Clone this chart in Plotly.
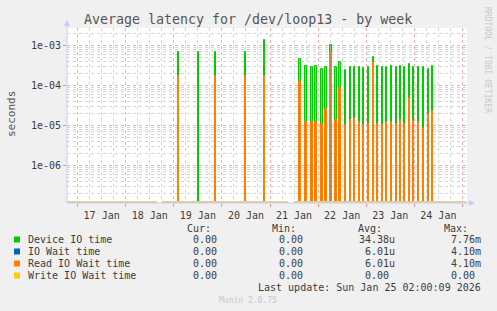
import plotly.graph_objects as go

# ---------------- data ----------------
times = [
    "2026-01-19 02:15", "2026-01-19 12:15", "2026-01-19 20:45", "2026-01-20 11:50",
    "2026-01-20 21:10", "2026-01-21 15:00", "2026-01-21 18:00", "2026-01-21 21:00",
    "2026-01-21 23:00", "2026-01-22 02:00", "2026-01-22 04:00", "2026-01-22 06:30",
    "2026-01-22 09:00", "2026-01-22 11:00", "2026-01-22 13:30", "2026-01-22 16:00",
    "2026-01-22 18:00", "2026-01-22 20:30", "2026-01-22 22:30", "2026-01-23 01:00",
    "2026-01-23 03:30", "2026-01-23 05:30", "2026-01-23 08:00", "2026-01-23 10:00",
    "2026-01-23 12:30", "2026-01-23 15:00", "2026-01-23 17:00", "2026-01-23 19:00",
    "2026-01-23 21:30", "2026-01-23 23:30", "2026-01-24 02:00", "2026-01-24 04:30",
    "2026-01-24 07:00", "2026-01-24 09:00",
]
device_io = [
    6.8e-4, 6.8e-4, 6.8e-4, 6.8e-4, 1.36e-3, 4.5e-4, 3.1e-4, 2.9e-4, 3.0e-4, 2.5e-4,
    2.9e-4, 1.0e-3, 2.9e-4, 3.8e-4, 2.4e-4, 2.9e-4, 2.9e-4, 2.9e-4, 2.7e-4, 2.9e-4,
    5.1e-4, 3.0e-4, 2.9e-4, 2.9e-4, 3.0e-4, 2.9e-4, 3.0e-4, 2.9e-4, 3.4e-4, 2.9e-4,
    2.9e-4, 2.9e-4, 2.5e-4, 3.0e-4,
]
read_wait = [
    1.7e-4, 0, 1.7e-4, 1.7e-4, 1.7e-4, 1.23e-4, 1.23e-5, 1.2e-5, 1.2e-5, 1.1e-5,
    2.5e-5, 6.9e-4, 1.35e-5, 8.4e-5, 1.0e-5, 1.35e-5, 1.5e-5, 1.2e-5, 1.0e-5, 1.1e-5,
    3.9e-4, 1.07e-5, 1.0e-5, 1.2e-5, 1.2e-5, 1.1e-5, 1.35e-5, 1.1e-5, 4.7e-5, 1.35e-5,
    1.2e-5, 8.7e-6, 1.9e-5, 2.3e-5,
]
io_wait = list(read_wait)
write_wait = [0] * len(times)

# baseline (zero-valued) periods with known data; gaps = unknown
known_periods = [
    ("2026-01-16 18:40", "2026-01-18 15:40"),
    ("2026-01-18 18:00", "2026-01-21 09:00"),
    ("2026-01-21 12:00", "2026-01-25 02:00"),
]

legend_names = ["Device IO time", "IO Wait time", "Read IO Wait time", "Write IO Wait time"]
legend_colors = ["#00CC00", "#0066B3", "#FF8000", "#FFCC00"]
cur_vals = ["0.00", "0.00", "0.00", "0.00"]
min_vals = ["0.00", "0.00", "0.00", "0.00"]
avg_vals = ["34.38u", "6.01u", "6.01u", "0.00"]
max_vals = ["7.76m", "4.10m", "4.10m", "0.00"]

y_tickvals = [1e-6, 1e-5, 1e-4, 1e-3]
y_ticktext = ["1e-06", "1e-05", "1e-04", "1e-03"]
x_range = ["2026-01-16 18:43", "2026-01-25 02:17"]
y_range_log = [-6.9425, -2.5675]

# ---------------- layout geometry ----------------
W, H = 497, 311
L, R, T, B = 67, 467, 28, 203
FONT = "DejaVu Sans Mono"
TXT = "#3c3c3c"

def px(x):
    return (x - L) / (R - L)

def py(y):
    return (B - y) / (B - T)

bar_w = 40 * 60 * 1000  # 40 minutes in ms

fig = go.Figure()
fig.add_trace(go.Bar(
    x=times, y=device_io, width=bar_w, name=legend_names[0],
    marker=dict(color="#6AD86A", line=dict(color="#00CC00", width=1)),
))
fig.add_trace(go.Bar(
    x=times, y=[v if v > 0 else None for v in io_wait], width=bar_w, name=legend_names[1],
    marker=dict(color="#0066B3", line=dict(color="#0066B3", width=1)),
))
fig.add_trace(go.Bar(
    x=times, y=[v if v > 0 else None for v in read_wait], width=bar_w, name=legend_names[2],
    marker=dict(color="#C08838", line=dict(color="#FF8000", width=1)),
))

shapes = []
for a, b in known_periods:
    shapes.append(dict(type="line", xref="x", yref="y domain", x0=a, x1=b, y0=0.006, y1=0.006,
                       line=dict(color="#E3CC8C", width=2), layer="above"))

# axis arrows
shapes.append(dict(type="path", xref="paper", yref="paper",
                   path=f"M {px(64)} {py(26)} L {px(70)} {py(26)} L {px(67)} {py(20)} Z",
                   fillcolor="#C8CCF4", line=dict(width=0)))
shapes.append(dict(type="line", xref="paper", yref="paper", x0=0, x1=0, y0=0, y1=py(21),
                   line=dict(color="#C8CCF4", width=1)))
shapes.append(dict(type="path", xref="paper", yref="paper",
                   path=f"M {px(469)} {py(200)} L {px(469)} {py(206)} L {px(475)} {py(203)} Z",
                   fillcolor="#C8CCF4", line=dict(width=0)))
shapes.append(dict(type="line", xref="paper", yref="paper", x0=0, x1=px(471), y0=0, y1=0,
                   line=dict(color="#C8CCF4", width=1)))

annotations = []
annotations.append(dict(text="Average latency for /dev/loop13 - by week", xref="paper", yref="paper",
                        x=px(247.5), y=py(19), showarrow=False, xanchor="center", yanchor="middle",
                        font=dict(family=FONT, size=13.3, color="#555555")))
annotations.append(dict(text="seconds", xref="paper", yref="paper", x=px(11), y=py(114),
                        showarrow=False, textangle=-90, xanchor="center", yanchor="middle",
                        font=dict(family=FONT, size=11, color="#555555")))
annotations.append(dict(text="RRDTOOL / TOBI OETIKER", xref="paper", yref="paper", x=px(488), y=py(60),
                        showarrow=False, textangle=90, xanchor="center", yanchor="middle",
                        font=dict(family=FONT, size=8, color="#C8C8C8")))

# legend header
for label, xr in [("Cur:", 213), ("Min:", 298), ("Avg:", 384), ("Max:", 470)]:
    annotations.append(dict(text=label, xref="paper", yref="paper", x=px(xr), y=py(228),
                            showarrow=False, xanchor="right", yanchor="middle",
                            font=dict(family=FONT, size=10, color=TXT)))

row_y = [239.5, 251.5, 263.5, 275.5]
col_right = [225, 311, 397, 483]
for i, name in enumerate(legend_names):
    yy = row_y[i]
    shapes.append(dict(type="rect", xref="paper", yref="paper", x0=px(14), x1=px(20),
                       y0=py(yy + 3), y1=py(yy - 3), fillcolor=legend_colors[i], line=dict(width=0)))
    annotations.append(dict(text=name, xref="paper", yref="paper", x=px(26), y=py(yy),
                            showarrow=False, xanchor="left", yanchor="middle",
                            font=dict(family=FONT, size=10, color=TXT)))
    for vals, cr in zip([cur_vals, min_vals, avg_vals, max_vals], col_right):
        v = vals[i]
        shift = 0 if v[-1].isalpha() else 6
        annotations.append(dict(text=v, xref="paper", yref="paper", x=px(cr - shift), y=py(yy),
                                showarrow=False, xanchor="right", yanchor="middle",
                                font=dict(family=FONT, size=10, color=TXT)))

annotations.append(dict(text="Last update: Sun Jan 25 02:00:09 2026", xref="paper", yref="paper",
                        x=px(483), y=py(287), showarrow=False, xanchor="right", yanchor="middle",
                        font=dict(family=FONT, size=10, color=TXT)))
annotations.append(dict(text="Munin 2.0.75", xref="paper", yref="paper", x=px(248), y=py(300.5),
                        showarrow=False, xanchor="center", yanchor="middle",
                        font=dict(family=FONT, size=8, color="#C8C8C8")))

minor_y = [k * 10.0 ** e for e in range(-7, -2) for k in range(2, 10)]

fig.update_layout(
    width=W, height=H,
    margin=dict(l=L, r=W - R, t=T, b=H - B, pad=0),
    paper_bgcolor="#F0F0F0", plot_bgcolor="#FFFFFF",
    barmode="overlay", bargap=0, showlegend=False,
    font=dict(family=FONT, size=10, color=TXT),
    shapes=shapes, annotations=annotations,
    xaxis=dict(
        type="date", range=x_range, dtick=86400000, tick0="2026-01-17 00:00",
        ticklabelmode="period", tickformat="%d %b",
        showgrid=True, gridcolor="rgba(230,120,120,0.6)", griddash="dot", gridwidth=1,
        ticks="outside", ticklen=3, tickcolor="rgba(230,120,120,0.8)",
        minor=dict(dtick=6 * 3600000, tick0="2026-01-17 00:00", showgrid=True,
                   gridcolor="#D4D4D4", griddash="dot", gridwidth=1),
        showline=False, zeroline=False,
        tickfont=dict(family=FONT, size=10, color=TXT),
    ),
    yaxis=dict(
        type="log", range=y_range_log, tickvals=y_tickvals, ticktext=y_ticktext,
        showgrid=True, gridcolor="rgba(230,120,120,0.6)", griddash="dot", gridwidth=1,
        ticks="outside", ticklen=3, tickcolor="rgba(230,120,120,0.8)",
        minor=dict(tickmode="array", tickvals=minor_y, showgrid=True,
                   gridcolor="#D4D4D4", griddash="dot", gridwidth=1),
        showline=False, zeroline=False,
        tickfont=dict(family=FONT, size=10, color=TXT),
    ),
)

fig.write_html("out.html")
